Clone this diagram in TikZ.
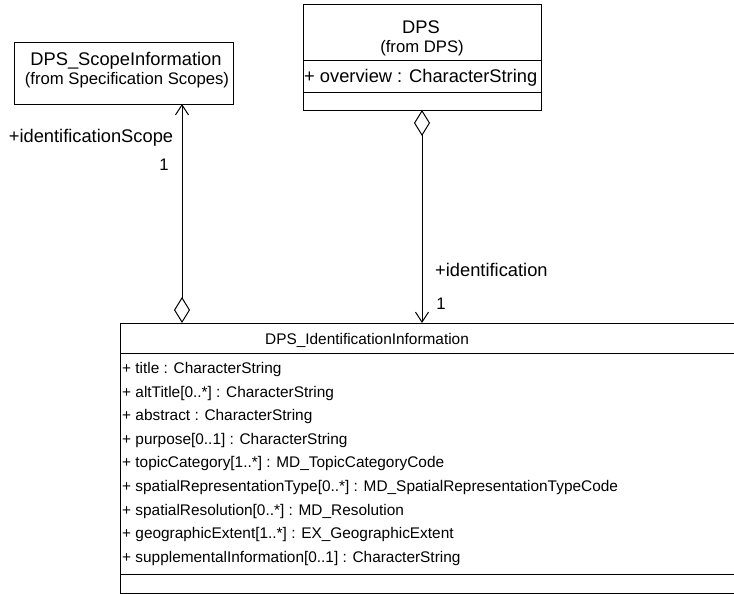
\documentclass[tikz,border=0pt]{standalone}
\usepackage{fontspec}
\setmainfont{Liberation Sans}
\usetikzlibrary{arrows.meta}
\tikzset{
  umlbox/.style={draw, line width=1pt, inner sep=0pt, outer sep=0pt, anchor=north west},
  sep/.style={line width=1pt},
  conn/.style={line width=1pt},
  aggnav/.style={{Diamond[open,length=26pt,width=16pt,line width=1pt,fill=white]}-{Straight Barb[length=10pt,width=13pt,line width=1pt]}},
  big/.style={font=\fontsize{18.3}{20}\selectfont, inner sep=0pt},
  mid/.style={font=\fontsize{16.7}{19}\selectfont, inner sep=0pt},
  small/.style={font=\fontsize{15.4}{18}\selectfont, inner sep=0pt},
  attr/.style={small, anchor=west},
}
\begin{document}
\begin{tikzpicture}[x=1pt,y=-1pt]
\useasboundingbox (0,0) rectangle (734,594);
\clip (0,0) rectangle (734,594);
\fill[white] (0,0) rectangle (734,594);
% Scope box
\node[umlbox, minimum width=219pt, minimum height=61pt] (scope) at (14,43) {};
\node[big] (scopename) at (126,61) {DPS\_ScopeInformation};
\node[mid] (scopefrom) at (127,80) {(from Specification Scopes)};
% DPS box
\node[umlbox, minimum width=238pt, minimum height=105pt] (dps) at (303,5) {};
\coordinate (d1) at (303,61);
\coordinate (d2) at (303,93);
\draw[sep] (d1) -- (d1 -| dps.east);
\draw[sep] (d2) -- (d2 -| dps.east);
\node[big] (dpsname) at (421,27) {DPS};
\node[mid] (dpsfrom) at (422,48) {(from DPS)};
\node[big, anchor=west] (overview) at (304,78) {+ overview : CharacterString};
% Main box
\node[umlbox, minimum width=660pt, minimum height=270pt] (main) at (120,323) {};
\coordinate (m1) at (120,353);
\coordinate (m2) at (120,574);
\draw[sep] (m1) -- (m1 -| main.east);
\draw[sep] (m2) -- (m2 -| main.east);
\node[small] (mainname) at (367,340) {DPS\_IdentificationInformation};
\node[attr] (a1) at (122,370) {+ title : CharacterString};
\node[attr] (a2) at (122,394) {+ altTitle[0..*] : CharacterString};
\node[attr] (a3) at (122,417) {+ abstract : CharacterString};
\node[attr] (a4) at (122,441) {+ purpose[0..1] : CharacterString};
\node[attr] (a5) at (122,464) {+ topicCategory[1..*] : MD\_TopicCategoryCode};
\node[attr] (a6) at (122,488) {+ spatialRepresentationType[0..*] : MD\_SpatialRepresentationTypeCode};
\node[attr] (a7) at (122,512) {+ spatialResolution[0..*] : MD\_Resolution};
\node[attr] (a8) at (122,535) {+ geographicExtent[1..*] : EX\_GeographicExtent};
\node[attr] (a9) at (122,559) {+ supplementalInformation[0..1] : CharacterString};
% Connectors
\coordinate (cl) at (182,0);
\coordinate (cr) at (422,0);
\draw[conn, aggnav] (main.north -| cl) -- (scope.south -| cl);
\draw[conn, aggnav] (dps.south -| cr) -- (main.north -| cr);
% Labels
\node[big] (lscope) at (91,138) {+identificationScope};
\node[mid] (lscope1) at (164,165) {1};
\node[big, anchor=west] (lid) at (435,270) {+identification};
\node[mid] (lid1) at (441,304) {1};
\end{tikzpicture}
\end{document}
